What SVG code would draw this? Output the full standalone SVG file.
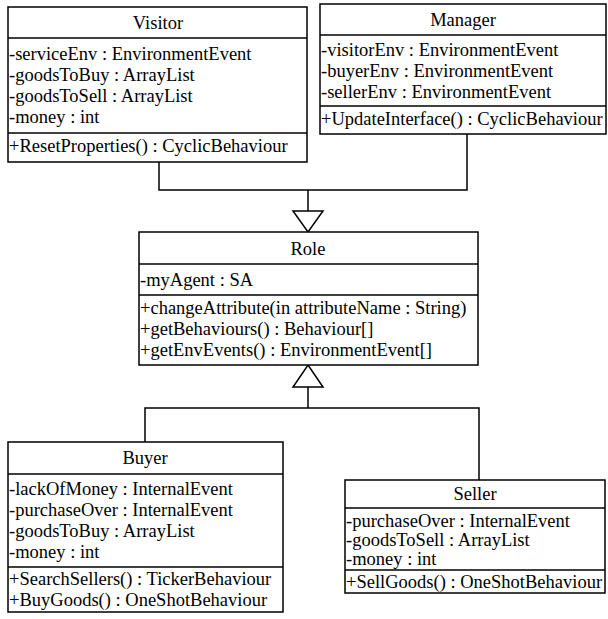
<svg xmlns="http://www.w3.org/2000/svg" width="608" height="619" viewBox="0 0 608 619">
  <style>
    .box { fill: #ffffff; stroke: #000000; stroke-width: 1.5; }
    .sep { stroke: #000000; stroke-width: 1.5; }
    .t { font-family: "Liberation Serif", "Times New Roman", serif; font-size: 18.5px; fill: #000000; }
    .title { text-anchor: middle; }
    .edge { fill: none; stroke: #000000; stroke-width: 1.5; }
    .tri { fill: #ffffff; stroke: #000000; stroke-width: 1.5; }
  </style>
  <rect width="608" height="619" fill="#ffffff"/>

  <!-- generalization connectors -->
  <g id="connectors">
    <polyline class="edge" points="159,162 159,190 467,190 467,134"/>
    <line class="edge" x1="308" y1="190" x2="308" y2="211"/>
    <polygon class="tri" points="293,211 323,211 308,232"/>
    <polygon class="tri" points="308,365 323,387 293,387"/>
    <line class="edge" x1="308" y1="387" x2="308" y2="408"/>
    <polyline class="edge" points="145,442 145,408 479,408 479,480"/>
  </g>

  <!-- Visitor -->
  <g id="visitor">
    <rect class="box" x="8" y="7" width="299" height="155"/>
    <line class="sep" x1="8" y1="38" x2="307" y2="38"/>
    <line class="sep" x1="8" y1="133" x2="307" y2="133"/>
    <text class="t title" x="158" y="29">Visitor</text>
    <text class="t" x="9" y="60">-serviceEnv : EnvironmentEvent</text>
    <text class="t" x="9" y="81">-goodsToBuy : ArrayList</text>
    <text class="t" x="9" y="102">-goodsToSell : ArrayList</text>
    <text class="t" x="9" y="123">-money : int</text>
    <text class="t" x="9" y="152">+ResetProperties() : CyclicBehaviour</text>
  </g>

  <!-- Manager -->
  <g id="manager">
    <rect class="box" x="320" y="4" width="286" height="130"/>
    <line class="sep" x1="320" y1="35" x2="606" y2="35"/>
    <line class="sep" x1="320" y1="106" x2="606" y2="106"/>
    <text class="t title" x="463" y="26">Manager</text>
    <text class="t" x="321" y="56">-visitorEnv : EnvironmentEvent</text>
    <text class="t" x="321" y="77">-buyerEnv : EnvironmentEvent</text>
    <text class="t" x="321" y="98">-sellerEnv : EnvironmentEvent</text>
    <text class="t" x="321" y="125">+UpdateInterface() : CyclicBehaviour</text>
  </g>

  <!-- Role -->
  <g id="role">
    <rect class="box" x="139" y="232" width="339" height="133"/>
    <line class="sep" x1="139" y1="264" x2="478" y2="264"/>
    <line class="sep" x1="139" y1="295" x2="478" y2="295"/>
    <text class="t title" x="308" y="255">Role</text>
    <text class="t" x="140" y="286">-myAgent : SA</text>
    <text class="t" x="140" y="314">+changeAttribute(in attributeName : String)</text>
    <text class="t" x="140" y="335">+getBehaviours() : Behaviour[]</text>
    <text class="t" x="140" y="356">+getEnvEvents() : EnvironmentEvent[]</text>
  </g>

  <!-- Buyer -->
  <g id="buyer">
    <rect class="box" x="8" y="442" width="275" height="170"/>
    <line class="sep" x1="8" y1="474" x2="283" y2="474"/>
    <line class="sep" x1="8" y1="567" x2="283" y2="567"/>
    <text class="t title" x="145" y="464">Buyer</text>
    <text class="t" x="9" y="495">-lackOfMoney : InternalEvent</text>
    <text class="t" x="9" y="516">-purchaseOver : InternalEvent</text>
    <text class="t" x="9" y="537">-goodsToBuy : ArrayList</text>
    <text class="t" x="9" y="558">-money : int</text>
    <text class="t" x="9" y="585">+SearchSellers() : TickerBehaviour</text>
    <text class="t" x="9" y="606">+BuyGoods() : OneShotBehaviour</text>
  </g>

  <!-- Seller -->
  <g id="seller">
    <rect class="box" x="345" y="480" width="260" height="113"/>
    <line class="sep" x1="345" y1="508" x2="605" y2="508"/>
    <line class="sep" x1="345" y1="570" x2="605" y2="570"/>
    <text class="t title" x="475" y="500">Seller</text>
    <text class="t" x="346" y="527">-purchaseOver : InternalEvent</text>
    <text class="t" x="346" y="546">-goodsToSell : ArrayList</text>
    <text class="t" x="346" y="565">-money : int</text>
    <text class="t" x="346" y="588">+SellGoods() : OneShotBehaviour</text>
  </g>
</svg>
